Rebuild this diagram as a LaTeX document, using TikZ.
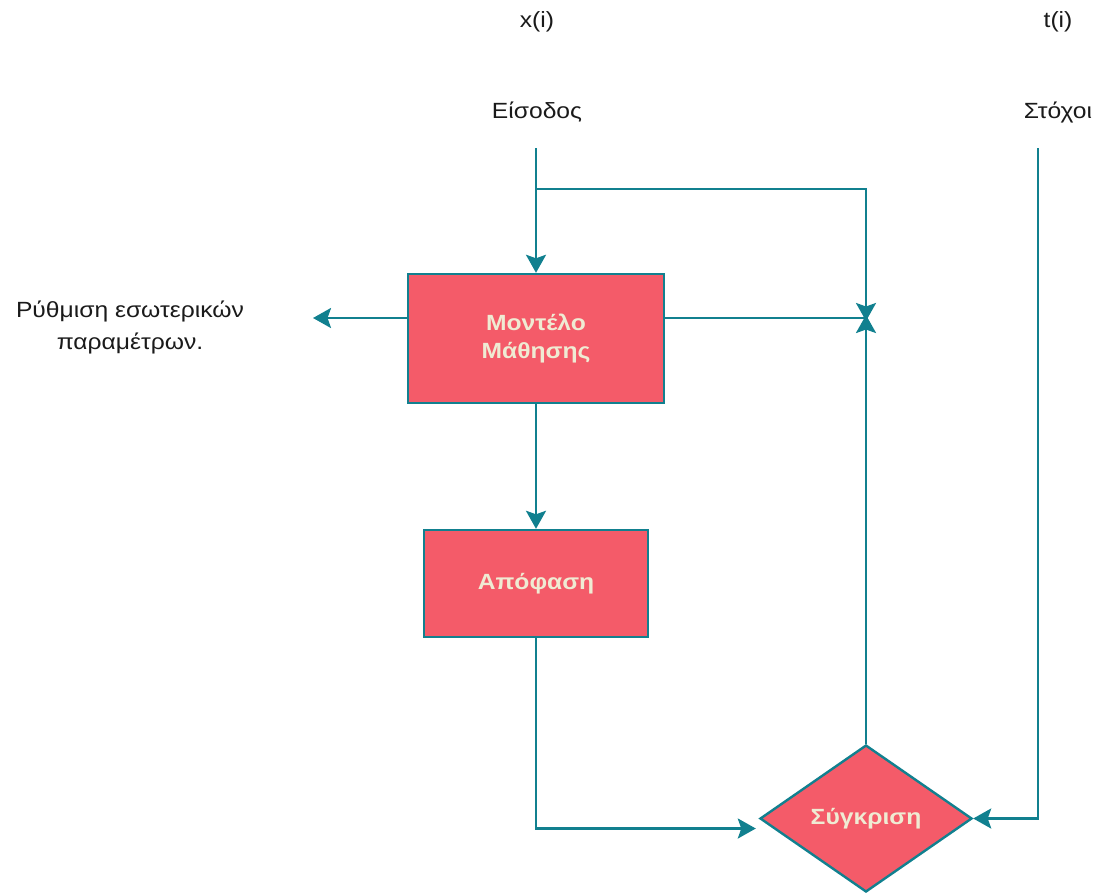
\documentclass[tikz,border=0pt]{standalone}
\usepackage{fontspec}
\setmainfont{Liberation Sans}[FakeStretch=1.12]
\usetikzlibrary{shapes.geometric,arrows.meta}
\definecolor{boxfill}{HTML}{F45B69}
\definecolor{edge}{HTML}{11808F}
\definecolor{boxtext}{HTML}{EFEBD3}
\definecolor{label}{HTML}{1A1A1A}
\tikzset{
  blockbox/.style={draw=edge, line width=2.4pt, fill=boxfill, text=boxtext,
    font=\fontsize{22}{28}\selectfont\bfseries, align=center, inner sep=0pt},
  decision/.style={diamond, draw=edge, line width=2.4pt, fill=boxfill, text=boxtext,
    font=\fontsize{22}{28}\selectfont\bfseries, inner sep=0pt,
    minimum width=212pt, minimum height=147pt},
  plain/.style={text=label, font=\fontsize{22}{32}\selectfont, align=center, inner sep=0pt},
  flow/.style={draw=edge, line width=2.6pt},
  arrowflow/.style={flow, -{Stealth[length=18pt, width=20pt, inset=3.5pt]}},
}
\begin{document}
\begin{tikzpicture}[x=1pt, y=-1pt]
  \useasboundingbox (0,0) rectangle (1099,895);

  % headings
  \node[plain] (xi)  at (537,22)  {x(i)};
  \node[plain] (ti)  at (1058,22) {t(i)};
  \node[plain] (in)  at (537,112) {Είσοδος};
  \node[plain] (tg)  at (1058,112) {Στόχοι};
  \node[plain] (adj) at (130,327) {Ρύθμιση εσωτερικών\\παραμέτρων.};

  % blocks
  \node[blockbox, minimum width=256pt, minimum height=129pt] (model) at (536,338.5)
    {Μοντέλο\\Μάθησης};
  \node[blockbox, minimum width=224pt, minimum height=107pt] (dec) at (536,583.5)
    {Απόφαση};
  \node[decision] (cmp) at (866,818.5) {Σύγκριση};

  % helper points
  \coordinate (inTop) at (536,148);
  \coordinate (split) at (536,189);
  \coordinate (corner) at (866,189);
  \coordinate (join) at (866,318);
  \coordinate (tgTop) at (1038,148);
  \coordinate (tgBot) at (1038,818.5);
  \coordinate (adjEnd) at (313,318);
  \coordinate (decBot) at (536,828.5);

  % input path
  \draw[arrowflow] (inTop) -- (model.north);
  \draw[arrowflow] (split) -- (corner) -- ([yshift=-3pt]join);
  % parameter adjustment
  \draw[arrowflow] (model.west |- adjEnd) -- (adjEnd);
  \draw[flow] (model.east |- join) -- (join);
  % model to decision
  \draw[arrowflow] (model.south) -- (dec.north);
  % decision to comparison
  \draw[arrowflow] (dec.south) -- (decBot) -- ([xshift=-3pt]cmp.west |- decBot);
  % targets to comparison
  \draw[arrowflow] (tgTop) -- (tgBot) -- (cmp.east);
  % comparison back up
  \draw[arrowflow] (cmp.north) -- ([yshift=3pt]join);
\end{tikzpicture}
\end{document}
